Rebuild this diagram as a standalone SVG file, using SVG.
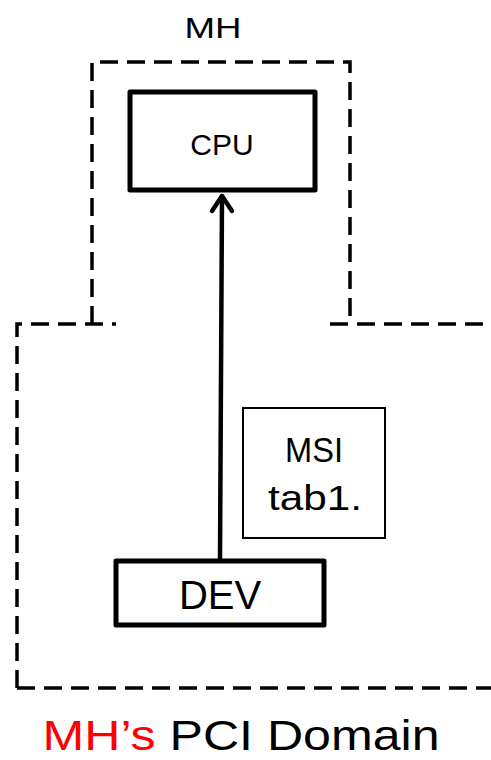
<svg xmlns="http://www.w3.org/2000/svg" width="491" height="760" viewBox="0 0 491 760">
  <style>
    .dash { fill: none; stroke: #000; stroke-width: 3.5; stroke-dasharray: 18 9; }
    .box { fill: #fff; stroke: #000; stroke-width: 5; stroke-linejoin: round; }
    .thin { fill: #fff; stroke: #000; stroke-width: 2; }
    .lbl { font-family: "Liberation Sans", Arial, sans-serif; fill: #000; text-anchor: middle; }
    .conn { fill: none; stroke: #000; stroke-width: 4.5; stroke-linecap: round; stroke-linejoin: round; }
  </style>

  <!-- domain outlines -->
  <g id="domains">
    <path class="dash" d="M92 324 V62 H350 V324"/>
    <path class="dash" d="M17 688 V324 H116"/>
    <path class="dash" d="M330 324 H491"/>
    <path class="dash" d="M17 688 H491"/>
    <text class="lbl" x="213" y="38" font-size="30" textLength="57" lengthAdjust="spacingAndGlyphs">MH</text>
  </g>

  <g id="cpu">
    <rect class="box" x="130" y="92" width="185" height="98"/>
    <text class="lbl" x="222" y="155" font-size="30">CPU</text>
  </g>

  <g id="msi-table">
    <rect class="thin" x="243" y="408" width="142" height="130"/>
    <text class="lbl" x="314" y="462" font-size="35" textLength="58" lengthAdjust="spacingAndGlyphs">MSI</text>
    <text class="lbl" x="315" y="510" font-size="35" textLength="94" lengthAdjust="spacingAndGlyphs">tab1.</text>
  </g>

  <g id="dev">
    <rect class="box" x="116" y="561" width="208" height="64"/>
    <text class="lbl" x="220" y="609" font-size="40">DEV</text>
  </g>

  <!-- interrupt path from device to CPU -->
  <g id="connectors">
    <path class="conn" d="M220 559 L222 196"/>
    <path class="conn" d="M212 211 L222 196 L232 211"/>
  </g>

  <text id="caption" x="241" y="750" font-family="Liberation Sans, Arial, sans-serif" font-size="42" text-anchor="middle" textLength="397" lengthAdjust="spacingAndGlyphs"><tspan fill="#ff0000">MH’s</tspan><tspan fill="#000"> PCI Domain</tspan></text>
</svg>
